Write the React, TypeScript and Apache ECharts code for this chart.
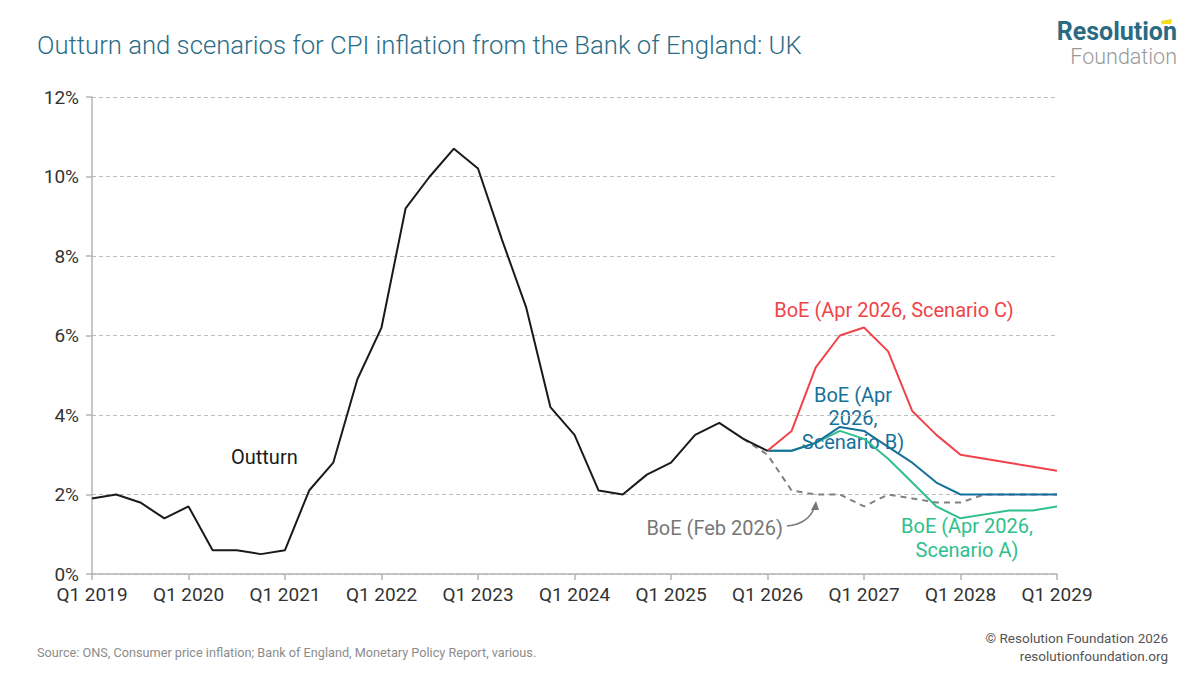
import React, { useEffect, useRef } from "react";
import * as echarts from "echarts";

const quarters: string[] = [];
for (let y = 2019; y <= 2029; y++) {
  for (let q = 1; q <= 4; q++) {
    if (y === 2029 && q > 1) break;
    quarters.push(`Q${q} ${y}`);
  }
}

const outturn = [1.9, 2.0, 1.8, 1.4, 1.7, 0.6, 0.6, 0.5, 0.6, 2.1, 2.8, 4.9, 6.2, 9.2, 10.0, 10.7, 10.2, 8.4, 6.7, 4.2, 3.5, 2.1, 2.0, 2.5, 2.8, 3.5, 3.8, 3.4, 3.1];
const feb2026Start = 27;
const feb2026 = [3.4, 3.0, 2.1, 2.0, 2.0, 1.7, 2.0, 1.9, 1.8, 1.8, 2.0, 2.0, 2.0, 2.0];
const scenStart = 28;
const scenarioC = [3.1, 3.6, 5.2, 6.0, 6.2, 5.6, 4.1, 3.5, 3.0, 2.9, 2.8, 2.7, 2.6];
const scenarioB = [3.1, 3.1, 3.3, 3.7, 3.6, 3.2, 2.8, 2.3, 2.0, 2.0, 2.0, 2.0, 2.0];
const scenarioA = [3.1, 3.1, 3.3, 3.6, 3.4, 2.9, 2.3, 1.7, 1.4, 1.5, 1.6, 1.6, 1.7];
const yTicks = [0, 2, 4, 6, 8, 10, 12];

function pad(start: number, vals: number[]): (number | null)[] {
  const out: (number | null)[] = quarters.map(() => null);
  vals.forEach((v, i) => (out[start + i] = v));
  return out;
}

const FONT = "Roboto, 'Noto Sans', sans-serif";

export default function App() {
  const ref = useRef<HTMLDivElement>(null);
  useEffect(() => {
    if (!ref.current) return;
    const chart = echarts.init(ref.current, undefined, { renderer: "svg" });
    const line = (name: string, data: (number | null)[], color: string, type: any = "solid", z = 2) => ({
      name,
      type: "line",
      data,
      symbol: "none",
      connectNulls: false,
      z,
      lineStyle: { color, width: 2, type },
    });
    chart.setOption({
      animation: false,
      backgroundColor: "#ffffff",
      textStyle: { fontFamily: FONT },
      grid: { left: 92, right: 143, top: 97, bottom: 101, containLabel: false },
      xAxis: {
        type: "category",
        data: quarters,
        boundaryGap: false,
        axisLine: { lineStyle: { color: "#b5b5b5", width: 1.5 } },
        axisTick: { show: true, interval: (i: number) => i % 4 === 0, length: 6, lineStyle: { color: "#b5b5b5", width: 1.5 } },
        axisLabel: {
          interval: (i: number) => i % 4 === 0,
          color: "#333",
          fontSize: 19,
          fontFamily: FONT,
          margin: 11,
        },
        splitLine: { show: false },
      },
      yAxis: {
        type: "value",
        min: 0,
        max: 12,
        interval: 2,
        axisLine: { show: true, lineStyle: { color: "#b5b5b5", width: 1.5 } },
        axisTick: { show: true, length: 6, lineStyle: { color: "#b5b5b5", width: 1.5 } },
        axisLabel: {
          formatter: (v: number) => (yTicks.includes(v) ? `${v}%` : ""),
          color: "#333",
          fontSize: 19,
          fontFamily: FONT,
          margin: 13,
        },
        splitLine: { show: true, lineStyle: { color: "#bdbdbd", type: [4, 3], width: 1 } },
      },
      series: [
        line("BoE (Feb 2026)", pad(feb2026Start, feb2026), "#808080", [6, 5], 2),
        line("BoE (Apr 2026, Scenario A)", pad(scenStart, scenarioA), "#2fbf8c", "solid", 3),
        line("BoE (Apr 2026, Scenario B)", pad(scenStart, scenarioB), "#16709c", "solid", 4),
        line("BoE (Apr 2026, Scenario C)", pad(scenStart, scenarioC), "#f0434a", "solid", 5),
        line("Outturn", pad(0, outturn), "#1a1a1a", "solid", 6),
      ],
      graphic: [
        { type: "text", left: 37, top: 32, style: { text: "Outturn and scenarios for CPI inflation from the Bank of England: UK", fill: "#2b6d88", font: `300 25.7px ${FONT}` } },
        { type: "text", x: 1177, y: 42, style: { text: "Resolution", fill: "#2a6a82", font: `bold 25px ${FONT}`, align: "right", verticalAlign: "bottom", lineHeight: 22 } },
        { type: "text", x: 1177, y: 47, style: { text: "Foundation", fill: "#999999", font: `300 21.5px ${FONT}`, align: "right", verticalAlign: "top", lineHeight: 18 } },
        { type: "polygon", shape: { points: [[1161, 21], [1172, 19], [1171, 24], [1162, 24]] }, style: { fill: "#f2dc1b" } },
        { type: "text", left: 37, top: 646, style: { text: "Source: ONS, Consumer price inflation; Bank of England, Monetary Policy Report, various.", fill: "#8c8c8c", font: `12.7px ${FONT}` } },
        { type: "text", right: 32, top: 631, style: { text: "© Resolution Foundation 2026", fill: "#555", font: `13.5px ${FONT}`, align: "right" } },
        { type: "text", right: 32, top: 649, style: { text: "resolutionfoundation.org", fill: "#555", font: `13.5px ${FONT}`, align: "right" } },
        { type: "text", left: 231, top: 447, style: { text: "Outturn", fill: "#1a1a1a", font: `20px ${FONT}` } },
        { type: "text", x: 894, y: 310, style: { text: "BoE (Apr 2026, Scenario C)", fill: "#f0434a", font: `20px ${FONT}`, align: "center", verticalAlign: "middle" } },
        { type: "text", x: 853, y: 418, style: { text: "BoE (Apr\n2026,\nScenario B)", fill: "#16709c", font: `20px ${FONT}`, align: "center", verticalAlign: "middle", lineHeight: 23.5 } },
        { type: "text", x: 967, y: 538, style: { text: "BoE (Apr 2026,\nScenario A)", fill: "#2fbf8c", font: `20px ${FONT}`, align: "center", verticalAlign: "middle", lineHeight: 23.5 } },
        { type: "text", x: 783, y: 528, style: { text: "BoE (Feb 2026)", fill: "#777777", font: `20px ${FONT}`, align: "right", verticalAlign: "middle" } },
        { type: "bezierCurve", shape: { x1: 787, y1: 526, cpx1: 802, cpy1: 525, cpx2: 812, cpy2: 517, x2: 815, y2: 505 }, style: { stroke: "#777777", lineWidth: 1.5, fill: "none" } },
        { type: "polygon", shape: { points: [[816, 501], [811, 510], [819, 510]] }, style: { fill: "#777777" } },
      ],
    });
    return () => chart.dispose();
  }, []);
  return <div ref={ref} style={{ width: 1200, height: 675, margin: -8 }} />;
}
